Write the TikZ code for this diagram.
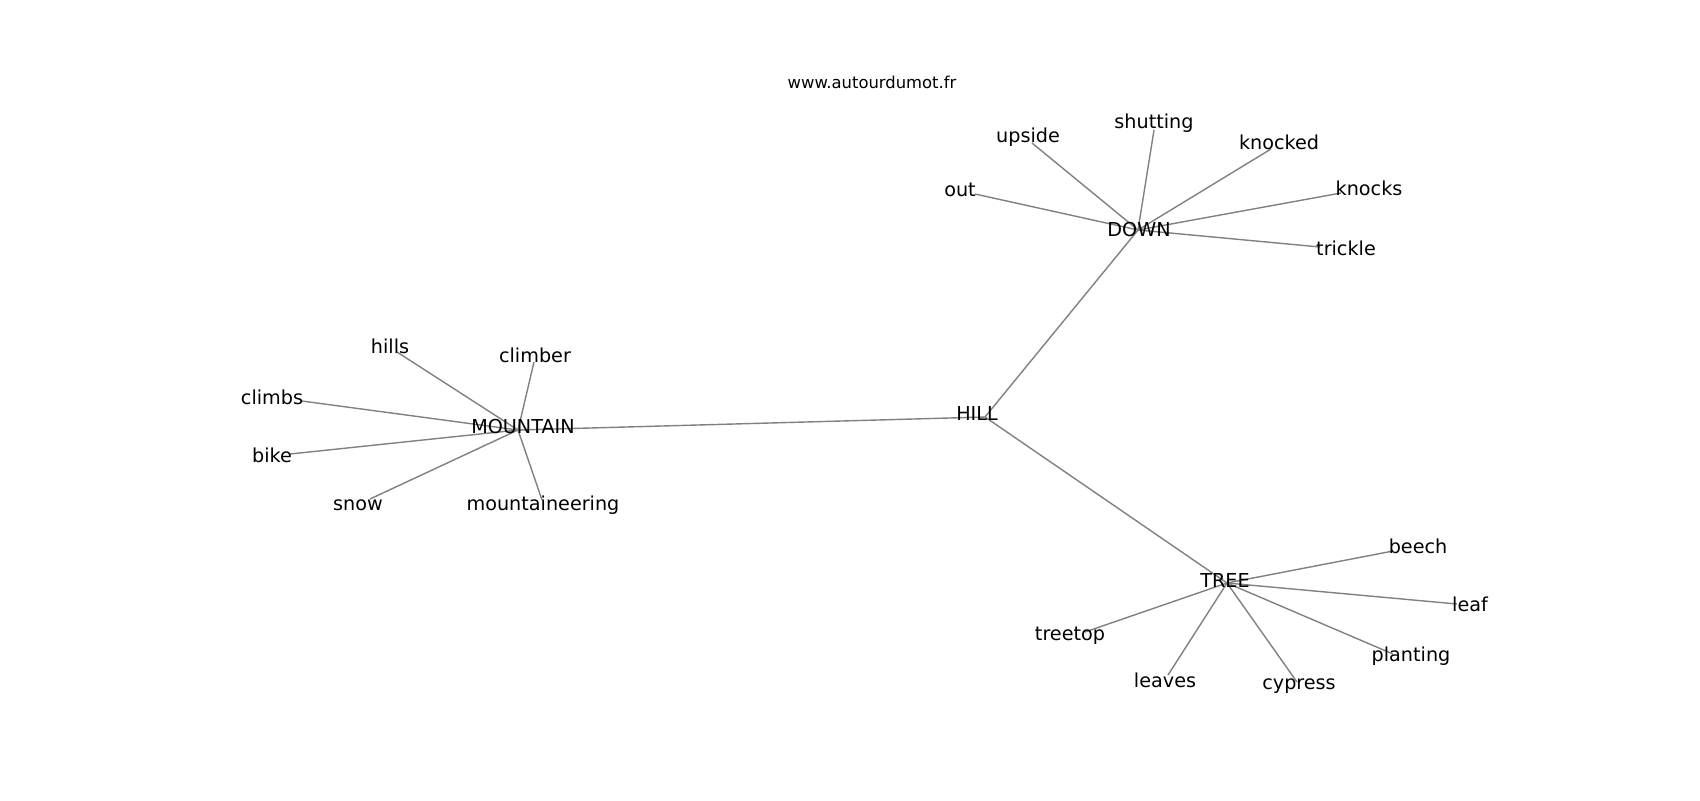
\documentclass[tikz,border=0pt]{standalone}
\usepackage{fontspec}
\setmainfont{DejaVu Sans}
\begin{document}
\begin{tikzpicture}[x=.5pt,y=-.5pt,
    edge/.style={draw=gray,line width=.7pt},
    word/.style={inner sep=0pt,font=\fontsize{9.6}{11}\selectfont}]
  \useasboundingbox (0,0) rectangle (1700,800);
  \node[inner sep=0pt,font=\fontsize{8.2}{10}\selectfont] (site) at (872,82) {www.autourdumot.fr};
  % hubs
  \foreach \n/\x/\y in {hill/985/417,mountain/518/430,down/1138/230,tree/1227/583}
    \coordinate (\n) at (\x,\y);
  \draw[edge] (mountain) -- (hill) -- (down) (hill) -- (tree);
  % leaves: hub/word/point/label
  \foreach \h/\n/\x/\y/\lx/\ly in {
      mountain/hills/397/352/390/346, mountain/climber/534/362/535/355,
      mountain/climbs/302/401/272/397, mountain/bike/290/454/272/455,
      mountain/snow/370/499/358/505, mountain/mountaineering/542/500/543/505,
      down/out/975/194/960/190, down/upside/1032/143/1028/137,
      down/shutting/1154/130/1154/123, down/knocked/1271/149/1279/142,
      down/knocks/1341/193/1369/188, down/trickle/1320/247/1346/248,
      tree/beech/1393/551/1418/546, tree/leaf/1457/604/1470/604,
      tree/planting/1393/654/1411/656, tree/cypress/1297/682/1299/686,
      tree/leaves/1168/675/1165/680, tree/treetop/1085/632/1070/636}{
    \coordinate (\n) at (\x,\y);
    \draw[edge] (\h) -- (\n);
    \node[word] (\n-w) at (\lx,\ly) {\n};
  }
  \foreach \n/\t/\lx/\ly in {hill/HILL/977/413,mountain/MOUNTAIN/523/426,
      down/DOWN/1139/229,tree/TREE/1225/580}
    \node[word] (\n-w) at (\lx,\ly) {\t};
\end{tikzpicture}
\end{document}
